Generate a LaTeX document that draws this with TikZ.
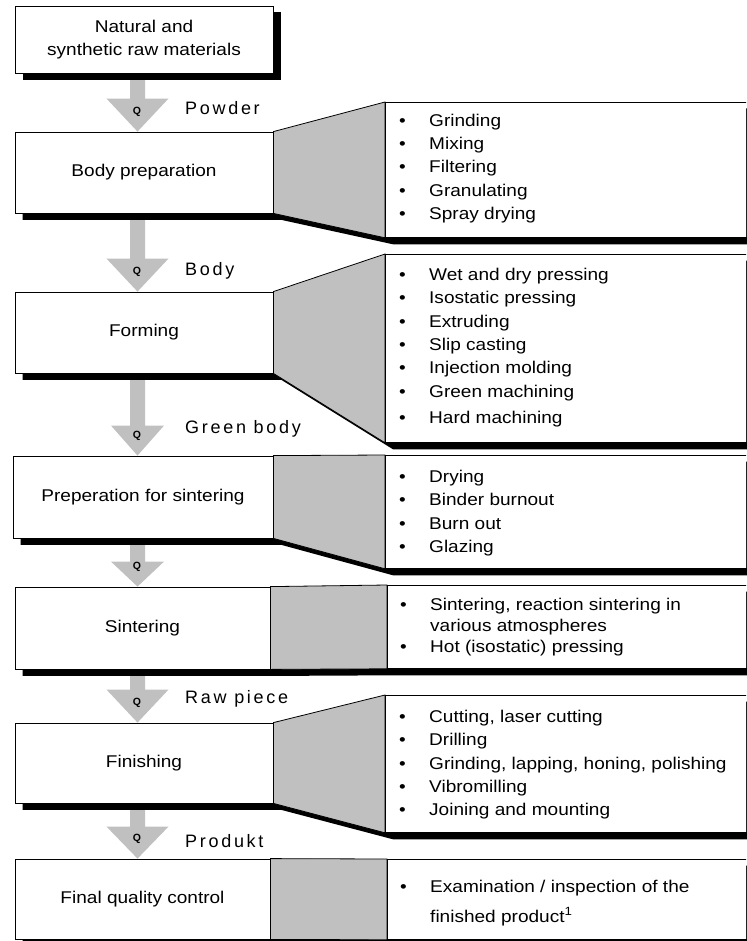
\documentclass[tikz,border=0pt]{standalone}
\usepackage{fontspec}
\setmainfont{Liberation Sans}[FakeStretch=1.12]
\newfontfamily\lblfont{Liberation Sans}[LetterSpace=15]
\newfontfamily\qfont{Liberation Sans}
\usetikzlibrary{calc}
\definecolor{grayfill}{HTML}{C0C0C0}
\pgfdeclarelayer{shadowlayer}
\pgfdeclarelayer{midlayer}
\pgfsetlayers{shadowlayer,midlayer,main}
\newcommand\mainfs{\fontsize{17}{23.3}\selectfont}
\newcommand\bul{\makebox[30pt][l]{\textbullet}}
\newcommand\ind{\makebox[30pt][l]{}}
% block arrow: from node, to node, head length, head half width
\newcommand\qarrow[4]{%
  \fill[arr] let \p1=(#1.south), \p2=(#2.north) in
    (130pt,\y1) -- (145pt,\y1) -- (145pt,{\y2+#3pt}) -- ({137.5pt+#4pt},{\y2+#3pt})
    -- (137.5pt,\y2) -- ({137.5pt-#4pt},{\y2+#3pt}) -- (130pt,{\y2+#3pt}) -- cycle;}
\newcommand\qlabel[2]{%
  \path let \p1=(#1.north) in node[qlab] (#2) at (137pt,{\y1+20pt}) {Q};}
\newcommand\rowshadow[2]{%
  \fill[shad] ([shift={(8,6.5)}]#1.north west) -- ([shift={(8,6.5)}]#1.north east)
    -- ([shift={(8,6.5)}]#2.north west) -- ([shift={(8,6.5)}]#2.north east)
    -- ([shift={(8,6.5)}]#2.south east) -- ([shift={(8,6.5)}]#2.south west)
    -- ([shift={(8,6.5)}]#1.south east) -- ([shift={(8,6.5)}]#1.south west) -- cycle;}
\newcommand\trapz[2]{%
  \filldraw[trap] (#1.north east) -- (#2.north west) -- (#2.south west) -- (#1.south east) -- cycle;}

\begin{document}
\begin{tikzpicture}[x=1pt,y=-1pt,
  leftbox/.style={draw=black, fill=white, line width=0.8pt, inner sep=0pt, align=center, font=\mainfs},
  listbox/.style={draw=black, fill=white, line width=0.8pt, inner sep=0pt, anchor=north west, minimum width=380pt},
  item/.style={anchor=base west, inner sep=0pt, font=\mainfs},
  flowlab/.style={anchor=base west, inner sep=0pt, font=\lblfont\fontsize{18}{20}\selectfont},
  qlab/.style={inner sep=0pt, font=\qfont\bfseries\fontsize{10.5}{12}\selectfont},
  trap/.style={fill=grayfill, draw=black, line width=0.8pt},
  shad/.style={fill=black},
  arr/.style={fill=grayfill}]
\clip (0,0) rectangle (746,941);

% process boxes
\node[leftbox, minimum width=258pt, minimum height=67pt] (b0) at (144,39.5) {Natural and\\synthetic raw materials};
\node[leftbox, minimum width=258pt, minimum height=81pt] (b1) at (144,172.5) {Body preparation};
\node[leftbox, minimum width=258pt, minimum height=81pt] (b2) at (144,332.5) {Forming};
\node[leftbox, minimum width=260pt, minimum height=82pt] (b3) at (143,497) {Preperation for sintering};
\node[leftbox, minimum width=255pt, minimum height=82pt] (b4) at (142.5,628) {Sintering};
\node[leftbox, minimum width=258pt, minimum height=80pt] (b5) at (144,763) {Finishing};
\node[leftbox, minimum width=255pt, minimum height=80pt] (b6) at (142.5,899) {Final quality control};

% list boxes
\node[listbox, minimum height=135pt] (l1) at (385,102) {};
\node[listbox, minimum height=188pt] (l2) at (385,254) {};
\node[listbox, minimum height=113pt] (l3) at (385,455) {};
\node[listbox, minimum height=83pt] (l4) at (387,585) {};
\node[listbox, minimum height=137pt] (l5) at (385,695) {};
\node[listbox, minimum height=80pt] (l6) at (387,859) {};

% list items
\foreach \yy/\tx [count=\i] in {127/Grinding, 150/Mixing, 173/Filtering, 197/Granulating, 220/Spray drying}
  {\node[item] (ia-\i) at (399,\yy) {\bul\tx};}
\foreach \yy/\tx [count=\i] in {280/Wet and dry pressing, 303/Isostatic pressing, 327/Extruding, 350/Slip casting, 373/Injection molding, 397/Green machining, 423/Hard machining}
  {\node[item] (ib-\i) at (399,\yy) {\bul\tx};}
\foreach \yy/\tx [count=\i] in {482/Drying, 505/Binder burnout, 529/Burn out, 552/Glazing}
  {\node[item] (ic-\i) at (399,\yy) {\bul\tx};}
\node[item] (id-1) at (400,610) {\bul Sintering, reaction sintering in};
\node[item] (id-2) at (400,631) {\ind various atmospheres};
\node[item] (id-3) at (400,652) {\bul Hot (isostatic) pressing};
\foreach \yy/\tx [count=\i] in {722/{Cutting, laser cutting}, 745/Drilling, 769/{Grinding, lapping, honing, polishing}, 792/Vibromilling, 815/Joining and mounting}
  {\node[item] (ie-\i) at (399,\yy) {\bul\tx};}
\node[item] (if-1) at (400,892) {\bul Examination / inspection of the};
\node[item] (if-2) at (400,922) {\ind finished product\textsuperscript{1}};

% flow labels
\node[flowlab] (f1) at (185,115) {Powder};
\node[flowlab] (f2) at (185,275) {Body};
\node[flowlab] (f3) at (185,433) {Green body};
\node[flowlab] (f4) at (185,703) {Raw piece};
\node[flowlab] (f5) at (185,847) {Produkt};

% Q labels
\qlabel{b1}{q1}
\qlabel{b2}{q2}
\qlabel{b3}{q3}
\qlabel{b4}{q4}
\qlabel{b5}{q5}
\qlabel{b6}{q6}

\begin{pgfonlayer}{shadowlayer}
  \qarrow{b0}{b1}{33}{31}
  \qarrow{b1}{b2}{33}{31}
  \qarrow{b2}{b3}{30}{26.5}
  \qarrow{b3}{b4}{25}{26.5}
  \qarrow{b4}{b5}{33}{31}
  \qarrow{b5}{b6}{32}{31}
  \fill[shad] ([shift={(8,6.5)}]b0.north west) rectangle ([shift={(8,6.5)}]b0.south east);
  \rowshadow{b1}{l1}
  \rowshadow{b2}{l2}
  \rowshadow{b3}{l3}
  \rowshadow{b4}{l4}
  \rowshadow{b5}{l5}
  \rowshadow{b6}{l6}
\end{pgfonlayer}

\begin{pgfonlayer}{midlayer}
  \trapz{b1}{l1}
  \trapz{b2}{l2}
  \trapz{b3}{l3}
  \trapz{b4}{l4}
  \trapz{b5}{l5}
  \trapz{b6}{l6}
\end{pgfonlayer}
\end{tikzpicture}
\end{document}
